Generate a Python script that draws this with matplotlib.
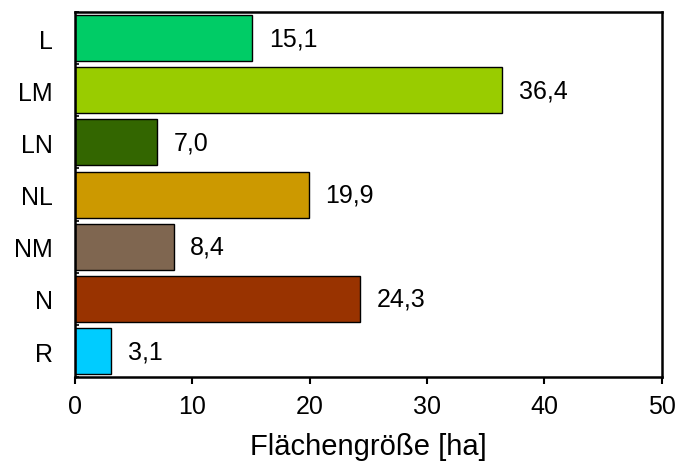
import matplotlib.pyplot as plt
import numpy as np

plt.rcParams['font.family'] = ['Liberation Sans', 'DejaVu Sans']

categories = ['L', 'LM', 'LN', 'NL', 'NM', 'N', 'R']
values = [15.1, 36.4, 7.0, 19.9, 8.4, 24.3, 3.1]
colors = ['#00cc66', '#99cc00', '#336600', '#cc9900', '#7f6650', '#993300', '#00ccff']
xticks = [0, 10, 20, 30, 40, 50]

fig = plt.figure(figsize=(6.78, 4.64), dpi=100)
ax = fig.add_axes([0.1106, 0.185, 0.8654, 0.787])

y = np.arange(len(categories))
bars = ax.barh(y, values, height=0.88, color=colors, edgecolor='black', linewidth=1.0)

for yi, v in zip(y, values):
    ax.annotate(f'{v:.1f}'.replace('.', ','), xy=(v, yi), xytext=(12, 0),
                textcoords='offset points', va='center', ha='left', fontsize=18)

ax.set_xlim(0, 50)
ax.set_ylim(len(categories) - 0.5, -0.5)
ax.set_xticks(xticks)
ax.set_yticks(y)
ax.set_yticklabels(categories)
ax.set_yticks(np.arange(-0.5, len(categories), 1), minor=True)
ax.tick_params(axis='x', labelsize=18, direction='out', length=5, width=1.5, pad=7)
ax.tick_params(axis='y', which='major', labelsize=18, length=0, pad=16)
ax.tick_params(axis='y', which='minor', direction='in', length=3, width=1.2)
ax.set_xlabel('Flächengröße [ha]', fontsize=21, va='baseline')
ax.xaxis.set_label_coords(0.5, -0.21)

for s in ax.spines.values():
    s.set_linewidth(1.8)

fig.savefig('out.png', dpi=100)
